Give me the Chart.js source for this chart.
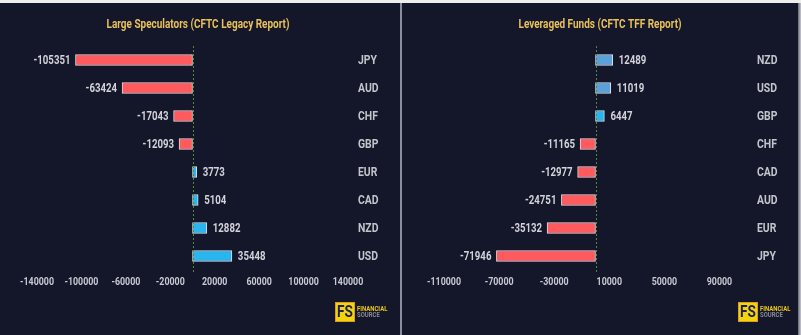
<!DOCTYPE html>
<html>
<head>
<meta charset="utf-8">
<script src="https://cdn.jsdelivr.net/npm/chart.js@4"></script>
<style>
  html, body { margin: 0; padding: 0; background: #14162a; }
  body { width: 801px; height: 335px; overflow: hidden; position: relative; }
  #topstrip { position: absolute; left: 0; top: 0; width: 801px; height: 3px; background: #eeeeef; }
  #left { position: absolute; left: 0; top: 0; width: 400px; height: 335px; }
  #divider { position: absolute; left: 400px; top: 3px; width: 2px; height: 332px; background: #8c8c9c; }
  #right { position: absolute; left: 402px; top: 0; width: 396px; height: 335px; }
  #edge { position: absolute; left: 798px; top: 3px; width: 3px; height: 332px; background: linear-gradient(to right, #6a6a78, #c8c8d0); }
</style>
</head>
<body>
<div id="left"><canvas id="c1" width="400" height="335"></canvas></div>
<div id="divider"></div>
<div id="right"><canvas id="c2" width="396" height="335"></canvas></div>
<div id="edge"></div>
<div id="topstrip"></div>
<script>
// ---- data ----
const leftTitle = 'Large Speculators (CFTC Legacy Report)';
const leftCategories = ['JPY', 'AUD', 'CHF', 'GBP', 'EUR', 'CAD', 'NZD', 'USD'];
const leftValues = [-105351, -63424, -17043, -12093, 3773, 5104, 12882, 35448];
const leftTicks = [-140000, -100000, -60000, -20000, 20000, 60000, 100000, 140000];

const rightTitle = 'Leveraged Funds (CFTC TFF Report)';
const rightCategories = ['NZD', 'USD', 'GBP', 'CHF', 'CAD', 'AUD', 'EUR', 'JPY'];
const rightValues = [12489, 11019, 6447, -11165, -12977, -24751, -35132, -71946];
const rightTicks = [-110000, -70000, -30000, 10000, 50000, 90000];

// ---- styles ----
const FONT = "Roboto, 'DejaVu Sans', sans-serif";
const NEG = '#ff5a5e';
const POS = '#2bb5ef';
const POS_ALT = '#5b9fdb';
const rightAltPositive = ['NZD', 'USD'];

function barColors(cats, vals, alt) {
  return vals.map((v, i) => v < 0 ? NEG : (alt && alt.includes(cats[i]) ? POS_ALT : POS));
}

// draw text horizontally condensed so that a reference string gets a target width
function squeezeFactor(ctx, font, sample, target) {
  ctx.save(); ctx.font = font;
  const w = ctx.measureText(sample).width;
  ctx.restore();
  return target / w;
}
function drawText(ctx, text, x, y, sx, align) {
  ctx.save();
  ctx.translate(x, y);
  ctx.scale(sx, 1);
  ctx.textAlign = align;
  ctx.fillText(text, 0, 0);
  ctx.restore();
}

const decorPlugin = {
  id: 'decor',
  afterDatasetsDraw(chart, args, opts) {
    const ctx = chart.ctx;
    const xs = chart.scales.x;
    const ys = chart.scales.y;
    const area = chart.chartArea;
    // zero line
    const zx = Math.round(xs.getPixelForValue(0)) + 0.5;
    ctx.save();
    ctx.strokeStyle = '#4f8a3a';
    ctx.lineWidth = 1;
    ctx.setLineDash([2, 2]);
    ctx.beginPath();
    ctx.moveTo(zx, area.top);
    ctx.lineTo(zx, area.bottom + 2);
    ctx.stroke();
    ctx.setLineDash([]);
    ctx.textBaseline = 'middle';

    // value labels
    const valFont = 'bold 12px ' + FONT;
    const sv = squeezeFactor(ctx, valFont, '-105351', 37);
    const meta = chart.getDatasetMeta(0);
    const data = chart.data.datasets[0].data;
    ctx.font = valFont;
    ctx.fillStyle = '#d2d3da';
    meta.data.forEach((bar, i) => {
      const v = data[i];
      if (v < 0) drawText(ctx, String(v), bar.x - 5, bar.y + 0.5, sv, 'right');
      else drawText(ctx, String(v), bar.x + 6, bar.y + 0.5, sv, 'left');
    });

    // x tick labels
    const tickFont = 'bold 11.5px ' + FONT;
    const st = squeezeFactor(ctx, tickFont, '-140000', 34);
    ctx.font = tickFont;
    ctx.fillStyle = '#c8c9d2';
    opts.ticks.forEach(v => {
      drawText(ctx, String(v), xs.getPixelForValue(v), area.bottom + 12, st, 'center');
    });

    // category labels
    const catFont = 'bold 12px ' + FONT;
    const sc = squeezeFactor(ctx, catFont, 'JPY', 19);
    ctx.font = catFont;
    ctx.fillStyle = '#c3c4cc';
    chart.data.labels.forEach((lab, i) => {
      drawText(ctx, lab, area.right + 10, ys.getPixelForValue(i) + 0.5, sc, 'left');
    });

    // title
    const titleFont = 'bold 12.5px ' + FONT;
    const stt = squeezeFactor(ctx, titleFont, leftTitle, 183);
    ctx.font = titleFont;
    ctx.fillStyle = '#e8c15a';
    drawText(ctx, opts.title, opts.titleX, 25, stt, 'center');

    // logo
    const lx = opts.logoX, ly = 302;
    ctx.fillStyle = '#f2d40c';
    ctx.fillRect(lx, ly, 20, 20);
    ctx.strokeStyle = '#e09a20';
    ctx.lineWidth = 1;
    ctx.strokeRect(lx + 0.5, ly + 0.5, 19, 19);
    ctx.fillStyle = '#1c1f5a';
    ctx.font = 'bold 16px ' + FONT;
    drawText(ctx, 'FS', lx + 10, ly + 11, 0.85, 'center');
    ctx.font = 'bold 7px ' + FONT;
    ctx.fillStyle = '#e8c61a';
    drawText(ctx, 'FINANCIAL', lx + 22, ly + 7, 0.85, 'left');
    ctx.fillStyle = '#8a8a96';
    drawText(ctx, 'SOURCE', lx + 22, ly + 13.5, 0.85, 'left');
    ctx.restore();
  }
};

function makeChart(id, cats, vals, ticks, range, title, titleX, logoX, padLeft, padRight, alt) {
  return new Chart(document.getElementById(id), {
    type: 'bar',
    data: {
      labels: cats,
      datasets: [{
        data: vals,
        backgroundColor: barColors(cats, vals, alt),
        borderColor: '#dcdce2',
        borderWidth: 1,
        borderSkipped: false,
        barThickness: 11
      }]
    },
    options: {
      indexAxis: 'y',
      responsive: false,
      animation: false,
      layout: { padding: { left: padLeft, right: padRight, top: 46, bottom: 65 } },
      plugins: {
        legend: { display: false },
        tooltip: { enabled: false },
        decor: { title: title, titleX: titleX, logoX: logoX, ticks: ticks }
      },
      scales: {
        x: {
          min: -range, max: range,
          grid: { display: false, drawTicks: false },
          border: { display: false },
          afterBuildTicks: s => { s.ticks = ticks.map(v => ({ value: v })); },
          afterFit: s => { s.height = 0; },
          ticks: { display: false }
        },
        y: {
          position: 'right',
          grid: { display: false, drawTicks: false },
          border: { display: false },
          afterFit: s => { s.width = 0; },
          ticks: { display: false }
        }
      }
    },
    plugins: [decorPlugin]
  });
}

makeChart('c1', leftCategories, leftValues, leftTicks, 140000, leftTitle, 198, 335, 37, 52, null);
makeChart('c2', rightCategories, rightValues, rightTicks, 110000, rightTitle, 198, 336, 42, 51, rightAltPositive);
</script>
</body>
</html>
